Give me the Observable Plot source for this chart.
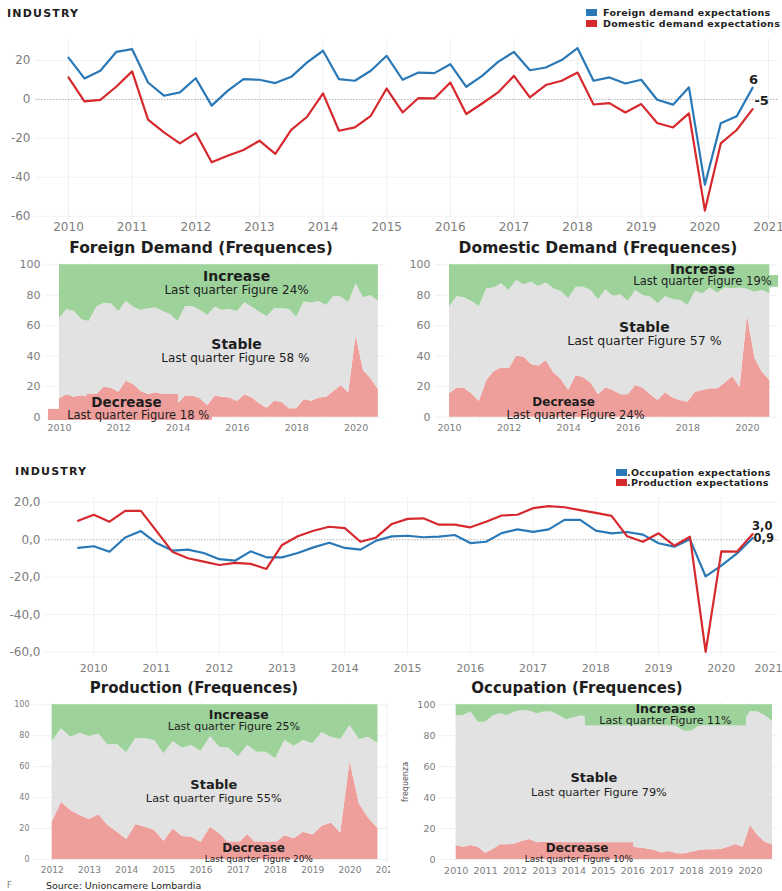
<!DOCTYPE html>
<html><head><meta charset="utf-8">
<script src="https://cdn.jsdelivr.net/npm/d3@7"></script>
<script src="https://cdn.jsdelivr.net/npm/@observablehq/plot@0.6"></script>
<style>
body{margin:0;background:#fff;}
#root{position:relative;width:782px;height:891px;overflow:hidden;font-family:"DejaVu Sans",sans-serif;background:#fff;}
.t{position:absolute;white-space:nowrap;line-height:1;color:#1a1a1a;}
.sw{position:absolute;width:11px;height:7px;}
</style></head><body><div id="root"></div>
<script>
// ---------- DATA ----------
// Top line chart: quarterly 2010 Q1 .. 2020 Q4
const foreignDemand = [21.5,10.8,14.7,24.4, 25.8,8.7,1.9,3.6, 10.9,-3.2,4.4,10.4, 10.1,8.4,11.6,19, 25,10.4,9.6,14.7, 22.4,10.1,13.8,13.5, 18.1,6.5,12.1,19.3, 24.4,15.0,16.4,20.2, 26.3,9.6,11.3,8.2, 10.1,-0.2,-2.7,6.2, -43.8,-12.3,-8.7,6];
const domesticDemand = [11.3,-1.0,-0.2,6.5, 14.4,-10.4,-16.9,-22.6, -17.3,-32.3,-28.9,-26, -21.2,-28.0,-15.6,-8.9, 3.1,-16.1,-14.4,-8.4, 5.6,-6.7,0.7,0.5, 8.7,-7.5,-2.1,3.6, 12.1,1.0,7.4,9.6, 13.8,-2.6,-1.9,-6.7, -2.4,-12.1,-14.4,-7.2, -57.1,-22.6,-15.7,-5];
// Second line chart
const productionExp = [10.1,13.3,9.6,15.4, 15.4,4.6,-6.4,-9.9, -11.7,-13.5,-12.4,-12.9, -15.6,-2.8,1.8,4.8, 6.9,6.2,-1.1,1.2, 8.4,11.1,11.4,8.0, 8.0,6.6,9.6,12.9, 13.3,16.8,17.9,17.3, 15.8,14.3,12.7,1.8, -1.1,3.4,-3.2,1.6, -59.8,-6.2,-6.4,3.0];
const occupationExp = [-4.4,-3.5,-6.4,1.2, 4.6,-1.8,-5.8,-5.3, -7.1,-10.4,-11.2,-6.2, -9.4,-9.4,-7.1,-4.1, -1.6,-4.4,-5.3,-0.5, 1.8,2.1,1.3,1.6, 2.5,-1.8,-1.1,3.5, 5.5,4.2,5.5,10.6, 10.6,4.8,3.4,4.1, 2.7,-1.9,-3.7,0.2, -19.6,-13.8,-7.3,0.9];
// Frequencies (% of firms): increase / decrease, stable = rest
const foreignIncrease = [35.3,29.3,30.6,36.1,37.2,27.8,25.2,25.6,30.6,24.1,27.8,30,28.9,28.4,30.6,32.8,37.2,27.4,27.4,30,33.3,27.8,30,29.3,30.6,24.9,27.8,31.1,33.9,28.9,28.9,29.3,34.4,24.5,25.2,24.1,26.7,20.6,21.2,24.9,12.5,21.7,20.1,24];
const foreignDecrease = [12.0,14.7,13.1,14,13,14.7,19.7,19,16.4,23.6,21.4,16.8,14.9,16,14.7,14.2,8.8,13.8,13.8,12,7.7,13.8,13.1,12.5,10.3,14.7,12.5,8.8,5.9,10.5,9.8,5.5,5.5,11.6,10.5,12.5,13.1,16.8,20.8,16,53.6,30.6,25.2,18.2];
const domesticIncrease = [27.8,20.8,21.7,24.1,27.4,15.8,15.3,12.5,16.8,10.3,13.1,11.4,14.2,12,15.8,17.5,22.3,14.7,14.7,16.8,23,16.4,20.6,19.7,23.9,16.8,20.1,21.2,25.6,20.8,22.8,23.4,26.7,17.5,19,15.3,18.6,15.3,15.8,15.3,16,18,16.8,19];
const domesticDecrease = [15.3,19,19,15.3,10.3,24.1,30,32.4,31.7,40,39.4,34.6,33.5,37.2,29.1,24.7,17.5,27.4,25.8,22.3,14.7,19.3,17.5,14.7,14.7,20.8,19,14.7,10.9,16,12.5,10.9,9.8,16.4,17.5,18.6,18.6,22.3,26.7,19.7,66.7,38.7,29.5,24];
const productionIncrease = [23.7,15.5,20.9,18.3,20.5,18.8,25.9,25.6,31,21.6,22,23.1,31.7,23.7,28,26.3,30.2,20.5,27.4,28,33.8,26.3,30.6,30.6,34.9,23.1,26.7,23.1,25.2,18.1,20.9,22.4,13.4,22.4,20.9,25];
const productionDecrease = [24.1,37.1,31.7,28.4,25.9,28.9,22,17.7,12.9,22.6,20.9,18.8,11.9,19.8,14.9,14.4,11.2,20.9,16.6,10.5,10,16.2,10,9.5,10.5,15.5,13.4,17.7,15.9,21.6,23.7,17.2,63.4,36,26.7,20];
const occupationIncrease = [7.3,6.9,4.7,11.2,11.2,7.3,5.8,6.9,4.7,3.7,4.1,5.8,4.7,4.7,6.9,9.7,8.4,7.3,8,9,8,9,10,9,10,9,10,11,10,12,14.2,17,17,14,12,11,10,11,10,12,4.3,4.7,6.9,11];
const occupationDecrease = [9.1,8.0,9.1,8.0,4.1,6.5,9.5,9.5,10.1,11.9,12.9,10.8,11.2,11.2,11.2,10.5,10,10,10.5,10,9.5,10,10,10,8.0,7.5,6.9,5.8,4.3,5.2,3.7,3.7,4.7,5.8,6.3,6.3,6.5,8.0,9.7,8.0,22,15.5,11.2,9.5];
// Tick labels
const yearTicks1 = [2010,2011,2012,2013,2014,2015,2016,2017,2018,2019,2020,2021];
const yearTicks2 = [2010,2011,2012,2013,2014,2015,2016,2017,2018,2019,2020];
const yTicksLine = [-60,-40,-20,0,20];
const yTicksPct = [0,20,40,60,80,100];
const evenYears = [2010,2012,2014,2016,2018,2020];
const prodYears = [2012,2013,2014,2015,2016,2017,2018,2019,2020,2021];

// ---------- STYLE ----------
const BLUE = "#2a78b6", RED = "#d6292e";
const GREEN = "#9dd39b", GRAY = "#e2e2e2", PINK = "#ef9f9b";
const AXIS = "#7d7d7d", GRID = "#eef1f2", INK = "#1e1e1e";

const root = document.getElementById("root");
function addSvg(svg, left, top) {
  svg.style.position = "absolute"; svg.style.left = left + "px"; svg.style.top = top + "px";
  root.appendChild(svg);
}
function addText(txt, x, y, o = {}) {
  const size = o.size || 12;
  const d = document.createElement("div");
  d.className = "t"; d.textContent = txt;
  d.style.fontSize = size + "px"; d.style.fontWeight = o.weight || "normal";
  d.style.color = o.color || INK; d.style.letterSpacing = (o.spacing || 0) + "px";
  d.style.left = x + "px"; d.style.top = (y - size / 2) + "px";
  const tx = o.anchor === "middle" ? "-50%" : o.anchor === "end" ? "-100%" : "0";
  d.style.transform = `translateX(${tx})`;
  root.appendChild(d);
  return d;
}
function swatch(color, x, y) {
  const d = document.createElement("div"); d.className = "sw";
  d.style.background = color; d.style.left = x + "px"; d.style.top = y + "px";
  root.appendChild(d);
}

const q = (start, n) => d3.range(n).map(i => start + i / 4);

function linePanel(c) {
  const marks = [
    Plot.gridX(c.xTicks, {stroke: GRID, strokeOpacity: 1}),
    Plot.gridY(c.yTicks.filter(d => d !== 0), {stroke: GRID, strokeOpacity: 1}),
    Plot.ruleY([0], {stroke: "#b0b0b0", strokeDasharray: "1.5,1.5"}),
    Plot.axisX(c.xTicks, {tickSize: 0, tickPadding: c.padX, tickFormat: d => String(d), fontSize: c.fx, color: AXIS, label: null}),
    Plot.axisY(c.yTicks, {tickSize: 0, tickPadding: 5, tickFormat: c.yFmt, fontSize: c.fy, color: AXIS, label: null})
  ];
  if (c.extraTicks) marks.push(Plot.text(c.extraTicks, {x: "x", text: "label", frameAnchor: "bottom", lineAnchor: "top", dy: c.padX, fontSize: c.fx, fill: AXIS}));
  for (const s of c.series) {
    const data = s.x.map((x, i) => ({x, y: s.y[i]}));
    marks.push(Plot.line(data, {x: "x", y: "y", stroke: s.color, strokeWidth: 2.2}));
    const last = data[data.length - 1];
    marks.push(Plot.text([{...last, label: s.endLabel}], {x: "x", y: "y", text: "label", dx: s.dx, dy: s.dy, fontSize: c.fe, fontWeight: "bold", fill: INK}));
  }
  const svg = Plot.plot({
    width: c.width, height: c.height,
    marginLeft: c.mL, marginRight: c.mR, marginTop: c.mT, marginBottom: c.mB,
    x: {domain: c.xDomain}, y: {domain: c.yDomain},
    style: {fontFamily: "DejaVu Sans", background: "transparent"},
    marks
  });
  addSvg(svg, c.left, c.top);
}

function freqPanel(c) {
  const data = c.x.map((x, i) => ({x, dec: c.dec[i], top: 100 - c.inc[i]}));
  const marks = [
    Plot.gridX(c.gridYears, {stroke: GRID, strokeOpacity: 1}),
    Plot.gridY(yTicksPct, {stroke: GRID, strokeOpacity: 1}),
    Plot.areaY(data, {x: "x", y1: 0, y2: "dec", fill: PINK}),
    Plot.areaY(data, {x: "x", y1: "dec", y2: "top", fill: GRAY}),
    Plot.areaY(data, {x: "x", y1: "top", y2: 100, fill: GREEN}),
  ];
  for (const l of c.labels) {
    if (l.box) marks.push(Plot.rect([l.box], {x1: "x1", x2: "x2", y1: "y1", y2: "y2", fill: l.boxFill}));
    marks.push(Plot.text([l], {x: "x", y: "y", text: "text", fontSize: l.size, fontWeight: l.bold ? "bold" : "normal", fill: INK}));
  }
  marks.push(Plot.axisX(c.xTicks, {tickSize: 0, tickPadding: c.padX, tickFormat: d => String(d), fontSize: c.fx, color: AXIS, label: null}));
  marks.push(Plot.axisY(yTicksPct, {tickSize: 0, tickPadding: c.padY, tickFormat: d => String(d), fontSize: c.fy, color: AXIS, label: null}));
  const svg = Plot.plot({
    width: c.width, height: c.height,
    marginLeft: c.mL, marginRight: c.mR, marginTop: c.mT, marginBottom: c.mB,
    x: {domain: c.xDomain}, y: {domain: c.yDomain},
    style: {fontFamily: "DejaVu Sans", background: "transparent"},
    marks
  });
  addSvg(svg, c.left, c.top);
}

// ---------- TOP LINE CHART ----------
addText("INDUSTRY", 7, 13.5, {size: 11, weight: "bold", spacing: 1.2});
swatch(BLUE, 586, 9); addText("Foreign demand expectations", 603, 12.7, {size: 9.5, weight: "bold", spacing: 0.3});
swatch(RED, 586, 20); addText("Domestic demand expectations", 603, 23.6, {size: 9.5, weight: "bold", spacing: 0.3});

const x1 = q(2010, 44);
linePanel({
  left: 0, top: 30, width: 782, height: 210, mL: 35, mR: 4, mT: 8, mB: 21,
  xDomain: [2009.4815, 2021.157], yDomain: [-61.7, 31.3],
  xTicks: yearTicks1, yTicks: yTicksLine, yFmt: d => String(d),
  padX: 3, fx: 12, fy: 12, fe: 13,
  series: [
    {x: x1, y: foreignDemand, color: BLUE, endLabel: "6", dx: 1, dy: -8},
    {x: x1, y: domesticDemand, color: RED, endLabel: "-5", dx: 9, dy: -8.5}
  ]
});

// ---------- FOREIGN / DOMESTIC FREQUENCES ----------
addText("Foreign Demand (Frequences)", 201, 248.5, {size: 15.5, weight: "bold", anchor: "middle"});
addText("Domestic Demand (Frequences)", 598, 249, {size: 15.5, weight: "bold", anchor: "middle"});

freqPanel({
  left: 0, top: 255, width: 390, height: 190, mL: 45, mR: 5, mT: 7, mB: 25,
  xDomain: [2009.528, 2020.991], yDomain: [-2.2, 101.5],
  x: x1, inc: foreignIncrease, dec: foreignDecrease,
  gridYears: yearTicks2, xTicks: evenYears, padX: 4, padY: 5, fx: 9.5, fy: 11,
  labels: [
    {x: 2015.97, y: 92.3, text: "Increase", size: 14, bold: true},
    {x: 2015.97, y: 83.6, text: "Last quarter Figure 24%", size: 12},
    {x: 2015.97, y: 47.8, text: "Stable", size: 14, bold: true},
    {x: 2015.93, y: 38.5, text: "Last quarter Figure 58 %", size: 12},
    {x: 2012.26, y: 9.7, text: "Decrease", size: 13.5, bold: true, box: {x1: 2010.93, x2: 2014.01, y1: 4.9, y2: 14.9}, boxFill: PINK},
    {x: 2012.65, y: 1.4, text: "Last quarter Figure 18 %", size: 11.5, box: {x1: 2009.63, x2: 2015.15, y1: -2.2, y2: 5.1}, boxFill: PINK}
  ]
});

freqPanel({
  left: 390, top: 255, width: 392, height: 190, mL: 45, mR: 5, mT: 7, mB: 25,
  xDomain: [2009.53, 2021.007], yDomain: [-2.2, 101.5],
  x: x1, inc: domesticIncrease, dec: domesticDecrease,
  gridYears: yearTicks2, xTicks: evenYears, padX: 4, padY: 5, fx: 9.5, fy: 11,
  labels: [
    {x: 2018.49, y: 96.8, text: "Increase", size: 13.5, bold: true},
    {x: 2018.49, y: 88.9, text: "Last quarter Figure 19%", size: 11.5, box: {x1: 2015.91, x2: 2021.04, y1: 85.2, y2: 93.0}, boxFill: GREEN},
    {x: 2016.54, y: 58.8, text: "Stable", size: 14, bold: true},
    {x: 2016.54, y: 49.7, text: "Last quarter Figure 57 %", size: 12.5},
    {x: 2013.83, y: 9.6, text: "Decrease", size: 12, bold: true},
    {x: 2014.23, y: 1.4, text: "Last quarter Figure 24%", size: 11.5}
  ]
});

// ---------- SECOND LINE CHART ----------
addText("INDUSTRY", 15, 471, {size: 11, weight: "bold", spacing: 1.2});
swatch(BLUE, 616, 469);
addText(".Occupation expectations", 627, 472.5, {size: 9.5, weight: "bold", spacing: 0.3});
swatch(RED, 616, 479);
addText(".Production expectations", 627, 482.8, {size: 9.5, weight: "bold", spacing: 0.3});

const x2 = q(2009.75, 44);
linePanel({
  left: 0, top: 490, width: 782, height: 185, mL: 45, mR: 4, mT: 6.7, mB: 20,
  xDomain: [2009.23, 2020.911], yDomain: [-61.76, 22.67],
  xTicks: yearTicks2, yTicks: yTicksLine, yFmt: d => d.toFixed(1).replace(".", ","),
  extraTicks: [{x: 2020.75, label: "2021"}],
  padX: 9, fx: 11, fy: 12, fe: 11.5,
  series: [
    {x: x2, y: occupationExp, color: BLUE, endLabel: "0,9", dx: 11, dy: -0.2},
    {x: x2, y: productionExp, color: RED, endLabel: "3,0", dx: 9.5, dy: -8.2}
  ]
});

// ---------- PRODUCTION / OCCUPATION FREQUENCES ----------
addText("Production (Frequences)", 194, 688.5, {size: 15, weight: "bold", anchor: "middle"});
addText("Occupation (Frequences)", 577, 688.5, {size: 15, weight: "bold", anchor: "middle"});

freqPanel({
  left: 0, top: 695, width: 390, height: 185, mL: 33, mR: 2, mT: 7, mB: 18,
  xDomain: [2011.498, 2021.033], yDomain: [-1.9, 101.5],
  x: q(2012, 36), inc: productionIncrease, dec: productionDecrease,
  gridYears: prodYears, xTicks: prodYears, padX: 4.5, padY: 4, fx: 9, fy: 8,
  labels: [
    {x: 2017.01, y: 93.2, text: "Increase", size: 12.5, bold: true},
    {x: 2016.88, y: 85.8, text: "Last quarter Figure 25%", size: 11},
    {x: 2016.34, y: 48.2, text: "Stable", size: 13, bold: true},
    {x: 2016.34, y: 39.4, text: "Last quarter Figure 55%", size: 11.3},
    {x: 2017.41, y: 7.3, text: "Decrease", size: 12, bold: true, box: {x1: 2016.49, x2: 2018.35, y1: 2.5, y2: 11.2}, boxFill: PINK},
    {x: 2017.55, y: 0.4, text: "Last quarter Figure 20%", size: 9}
  ]
});

freqPanel({
  left: 390, top: 695, width: 392, height: 185, mL: 49, mR: 5, mT: 7, mB: 18,
  xDomain: [2009.4326, 2020.918], yDomain: [-1.9, 101.5],
  x: x1, inc: occupationIncrease, dec: occupationDecrease,
  gridYears: yearTicks2, xTicks: yearTicks2, padX: 4.5, padY: 4, fx: 9.5, fy: 9.5,
  labels: [
    {x: 2017.11, y: 97.3, text: "Increase", size: 12.5, bold: true},
    {x: 2017.11, y: 89.8, text: "Last quarter Figure 11%", size: 11, box: {x1: 2014.39, x2: 2019.86, y1: 86.4, y2: 93.5}, boxFill: GREEN},
    {x: 2014.68, y: 52.6, text: "Stable", size: 13, bold: true},
    {x: 2014.85, y: 43.3, text: "Last quarter Figure 79%", size: 11.3},
    {x: 2014.11, y: 7.3, text: "Decrease", size: 12, bold: true, box: {x1: 2013.03, x2: 2016.03, y1: 2.5, y2: 10.8}, boxFill: PINK},
    {x: 2014.17, y: 0.4, text: "Last quarter Figure 10%", size: 9}
  ]
});

// y-axis title of occupation panel
const fq = document.createElement("div");
fq.className = "t"; fq.textContent = "frequenza";
Object.assign(fq.style, {fontSize: "8px", color: "#555", left: "406px", top: "782px", transform: "translate(-50%,-50%) rotate(-90deg)"});
root.appendChild(fq);

// ---------- SOURCE ----------
addText("F", 7, 886, {size: 8, color: "#777"});
addText("Source: Unioncamere Lombardia", 46, 886, {size: 9.5, color: INK});
</script></body></html>
